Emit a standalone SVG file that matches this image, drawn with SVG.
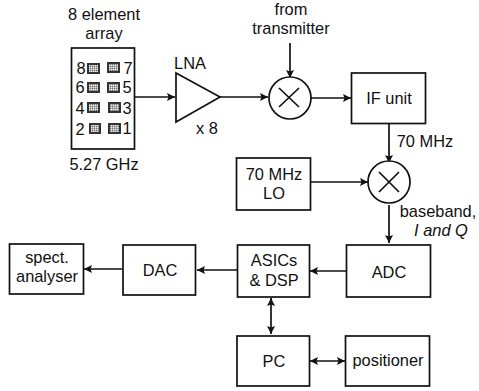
<svg xmlns="http://www.w3.org/2000/svg" width="479" height="391" viewBox="0 0 479 391">
<defs>
<marker id="a" markerUnits="userSpaceOnUse" markerWidth="10" markerHeight="10" refX="8" refY="4" orient="auto-start-reverse"><path d="M0,0L8,4L0,8L1.5,4Z" fill="#111"/></marker>
<pattern id="d" width="2" height="2" patternUnits="userSpaceOnUse"><rect width="2" height="2" fill="#b5b5b5"/><rect width="1" height="1" fill="#777"/><rect x="1" y="1" width="1" height="1" fill="#e5e5e5"/></pattern>
</defs>
<style>
text{font-family:"Liberation Sans",Arial,sans-serif;font-size:16.400px;fill:#111;text-anchor:middle}
.b{fill:#fff;stroke:#111;stroke-width:1.7}
.c{fill:none;stroke:#111;stroke-width:1.7}
.e{fill:url(#d);stroke:#333;stroke-width:2}
#connectors path{fill:none;stroke:#111;stroke-width:1.7;marker-end:url(#a)}
#connectors path.two{marker-start:url(#a)}
</style>
<rect width="479" height="391" fill="#fff"/>
<g id="connectors">
<path d="M135,97H175"/>
<path d="M220,97H268"/>
<path d="M290,43V78"/>
<path d="M311,98H351"/>
<path d="M389,124V163"/>
<path d="M311,182H368"/>
<path d="M389,205V243"/>
<path d="M346,271H310"/>
<path d="M237,270H197"/>
<path d="M122,269H84"/>
<path class="two" d="M271,298V334"/>
<path class="two" d="M310,361H345"/>
</g>
<g id="array">
<text x="104" y="20">8 element</text>
<text x="104" y="39">array</text>
<rect class="b" x="71.500" y="48" width="63" height="101"/>
<rect class="e" x="88" y="64" width="11" height="9"/><rect class="e" x="108" y="63" width="11" height="9"/>
<rect class="e" x="88" y="83" width="11" height="9"/><rect class="e" x="108" y="83" width="11" height="9"/>
<rect class="e" x="88" y="103" width="11" height="9"/><rect class="e" x="109" y="103" width="11" height="9"/>
<rect class="e" x="90" y="124" width="10" height="9"/><rect class="e" x="109" y="124" width="11" height="9"/>
<text x="81" y="74">8</text><text x="128" y="74">7</text>
<text x="80" y="93">6</text><text x="127" y="93">5</text>
<text x="80" y="114">4</text><text x="127" y="114">3</text>
<text x="80" y="135">2</text><text x="127" y="134">1</text>
<text x="104" y="170">5.27 GHz</text>
</g>
<g id="lna">
<text x="190" y="69">LNA</text>
<path class="b" d="M176,73L220,97L176,122Z"/>
<text x="207" y="134">x 8</text>
</g>
<g id="mixer1">
<text x="291" y="15">from</text>
<text x="291" y="34">transmitter</text>
<circle class="b" cx="290" cy="98" r="21"/>
<path class="c" d="M279,88L299,107M299,88L279,107"/>
</g>
<g id="if-unit">
<rect class="b" x="351.500" y="73" width="74" height="50.500"/>
<text x="389" y="104">IF unit</text>
</g>
<text x="425" y="147">70 MHz</text>
<g id="lo">
<rect class="b" x="236.500" y="158" width="74" height="52"/>
<text x="274" y="180">70 MHz</text>
<text x="274" y="199">LO</text>
</g>
<g id="mixer2">
<circle class="b" cx="389" cy="182" r="21"/>
<path class="c" d="M379,172L399,192M399,172L379,192"/>
<text x="438" y="217">baseband,</text>
<text x="441" y="236" font-style="italic">I and Q</text>
</g>
<g id="adc">
<rect class="b" x="346.500" y="245" width="84" height="52"/>
<text x="389" y="278">ADC</text>
</g>
<g id="dsp">
<rect class="b" x="237.500" y="245" width="72" height="52"/>
<text x="274" y="266">ASICs</text>
<text x="274" y="286">&amp; DSP</text>
</g>
<g id="dac">
<rect class="b" x="123" y="245" width="72.500" height="50"/>
<text x="160" y="276">DAC</text>
</g>
<g id="analyser">
<rect class="b" x="9.500" y="244" width="74" height="50"/>
<text x="47" y="263">spect.</text>
<text x="47" y="282">analyser</text>
</g>
<g id="pc">
<rect class="b" x="237" y="336" width="72.500" height="50"/>
<text x="274" y="367">PC</text>
</g>
<g id="positioner">
<rect class="b" x="345.500" y="336" width="84" height="50"/>
<text x="388" y="366">positioner</text>
</g>
</svg>
